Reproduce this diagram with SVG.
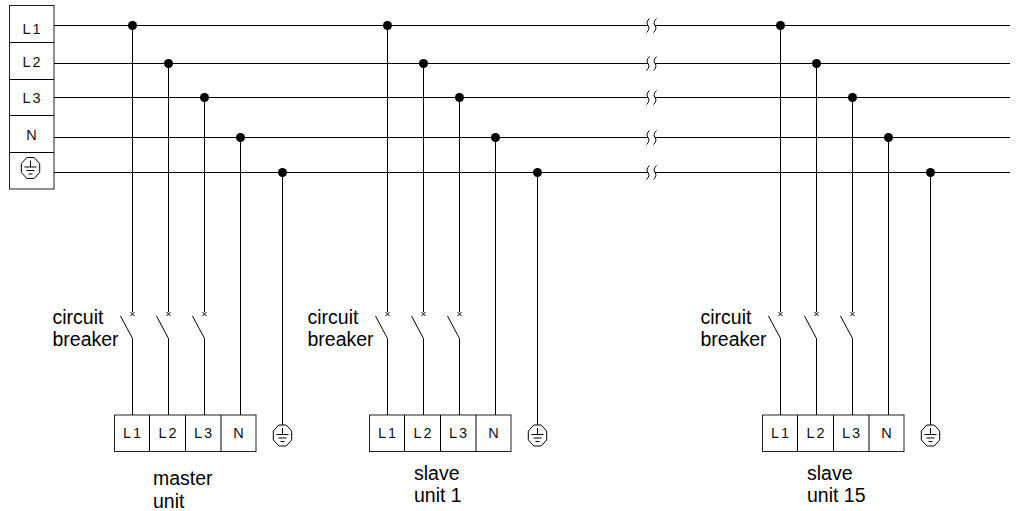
<svg xmlns="http://www.w3.org/2000/svg" xmlns:xlink="http://www.w3.org/1999/xlink" width="1017" height="511" viewBox="0 0 1017 511">
<style>
  .ln{stroke:#000;stroke-width:1;fill:none}
  .box{stroke:#222;stroke-width:1;fill:#fff}
  .dot{fill:#000}
  .cad{font-family:"Liberation Sans",Arial,sans-serif;font-size:14.5px;letter-spacing:2px;fill:#111;text-anchor:middle}
  .lbl{font-family:"Liberation Sans",Arial,sans-serif;font-size:19.5px;fill:#000}
</style>
<defs>
  <g id="gnd">
    <polygon class="ln" points="-3.7,-10.5 3.7,-10.5 9.2,-4.4 9.2,4.4 3.7,10.5 -3.7,10.5 -9.2,4.4 -9.2,-4.4"/>
    <path class="ln" d="M0,-7.5V-1M-6,-1H6M-4,2.5H4M-2,6H2"/>
  </g>
  <path id="brk" class="ln" d="M1.5,-7Q-2.5,-3 0,0Q2.5,3 -1.5,7"/>
  <g id="sw">
    <path class="ln" d="M-2,312L2,316M2,312L-2,316M-12,316L0,338.5"/>
  </g>
</defs>

<g id="connectors">
  <!-- bus lines -->
  <path class="ln" d="M54,25.5H648M655,25.5H1010"/>
  <path class="ln" d="M54,63.5H648M655,63.5H1010"/>
  <path class="ln" d="M54,97.5H648M655,97.5H1010"/>
  <path class="ln" d="M54,137.5H648M655,137.5H1010"/>
  <path class="ln" d="M54,172.5H648M655,172.5H1010"/>
  <use xlink:href="#brk" x="648" y="25.5"/><use xlink:href="#brk" x="655" y="25.5"/>
  <use xlink:href="#brk" x="648" y="63.5"/><use xlink:href="#brk" x="655" y="63.5"/>
  <use xlink:href="#brk" x="648" y="97.5"/><use xlink:href="#brk" x="655" y="97.5"/>
  <use xlink:href="#brk" x="648" y="137.5"/><use xlink:href="#brk" x="655" y="137.5"/>
  <use xlink:href="#brk" x="648" y="172.5"/><use xlink:href="#brk" x="655" y="172.5"/>

  <!-- drops per unit -->
  <g id="drops-master">
    <path class="ln" d="M132.5,25.5V312M132.5,338.5V415M168.5,63.5V312M168.5,338.5V415M204.5,97.5V312M204.5,338.5V415M240.5,137.5V415M282.5,172.5V425"/>
    <use xlink:href="#sw" x="132.5"/><use xlink:href="#sw" x="168.5"/><use xlink:href="#sw" x="204.5"/>
    <circle class="dot" cx="132.5" cy="25.5" r="4.5"/><circle class="dot" cx="168.5" cy="63.5" r="4.5"/>
    <circle class="dot" cx="204.5" cy="97.5" r="4.5"/><circle class="dot" cx="240.5" cy="137.5" r="4.5"/>
    <circle class="dot" cx="282.5" cy="172.5" r="4.5"/>
  </g>
  <g id="drops-slave1" transform="translate(255,0)">
    <path class="ln" d="M132.5,25.5V312M132.5,338.5V415M168.5,63.5V312M168.5,338.5V415M204.5,97.5V312M204.5,338.5V415M240.5,137.5V415M282.5,172.5V425"/>
    <use xlink:href="#sw" x="132.5"/><use xlink:href="#sw" x="168.5"/><use xlink:href="#sw" x="204.5"/>
    <circle class="dot" cx="132.5" cy="25.5" r="4.5"/><circle class="dot" cx="168.5" cy="63.5" r="4.5"/>
    <circle class="dot" cx="204.5" cy="97.5" r="4.5"/><circle class="dot" cx="240.5" cy="137.5" r="4.5"/>
    <circle class="dot" cx="282.5" cy="172.5" r="4.5"/>
  </g>
  <g id="drops-slave15" transform="translate(648,0)">
    <path class="ln" d="M132.5,25.5V312M132.5,338.5V415M168.5,63.5V312M168.5,338.5V415M204.5,97.5V312M204.5,338.5V415M240.5,137.5V415M282.5,172.5V425"/>
    <use xlink:href="#sw" x="132.5"/><use xlink:href="#sw" x="168.5"/><use xlink:href="#sw" x="204.5"/>
    <circle class="dot" cx="132.5" cy="25.5" r="4.5"/><circle class="dot" cx="168.5" cy="63.5" r="4.5"/>
    <circle class="dot" cx="204.5" cy="97.5" r="4.5"/><circle class="dot" cx="240.5" cy="137.5" r="4.5"/>
    <circle class="dot" cx="282.5" cy="172.5" r="4.5"/>
  </g>
</g>

<g id="supply">
  <rect class="box" x="9.5" y="5.5" width="44.5" height="183.5"/>
  <path class="ln" d="M9.5,42.5H54M9.5,79.5H54M9.5,115.5H54M9.5,152.5H54"/>
  <text class="cad" x="32.5" y="33.5">L1</text>
  <text class="cad" x="32.5" y="67">L2</text>
  <text class="cad" x="32.5" y="103">L3</text>
  <text class="cad" x="32.5" y="140">N</text>
  <use xlink:href="#gnd" x="30.5" y="168"/>
</g>

<g id="master-unit">
  <rect class="box" x="114.5" y="415" width="141.5" height="36.5"/>
  <path class="ln" d="M149.5,415V451.5M185.5,415V451.5M221,415V451.5"/>
  <text class="cad" x="133" y="438">L1</text>
  <text class="cad" x="168.5" y="438">L2</text>
  <text class="cad" x="204" y="438">L3</text>
  <text class="cad" x="239.5" y="438">N</text>
  <use xlink:href="#gnd" x="282.5" y="435.5"/>
  <text class="lbl" x="52.5" y="323.5">circuit</text>
  <text class="lbl" x="52.5" y="346">breaker</text>
  <text class="lbl" x="153" y="485">master</text>
  <text class="lbl" x="153" y="508">unit</text>
</g>

<g id="slave-unit-1" transform="translate(255,0)">
  <rect class="box" x="114.5" y="415" width="141.5" height="36.5"/>
  <path class="ln" d="M149.5,415V451.5M185.5,415V451.5M221,415V451.5"/>
  <text class="cad" x="133" y="438">L1</text>
  <text class="cad" x="168.5" y="438">L2</text>
  <text class="cad" x="204" y="438">L3</text>
  <text class="cad" x="239.5" y="438">N</text>
  <use xlink:href="#gnd" x="282.5" y="435.5"/>
  <text class="lbl" x="52.5" y="323.5">circuit</text>
  <text class="lbl" x="52.5" y="346">breaker</text>
  <text class="lbl" x="159" y="480">slave</text>
  <text class="lbl" x="159" y="502">unit 1</text>
</g>

<g id="slave-unit-15" transform="translate(648,0)">
  <rect class="box" x="114.5" y="415" width="141.5" height="36.5"/>
  <path class="ln" d="M149.5,415V451.5M185.5,415V451.5M221,415V451.5"/>
  <text class="cad" x="133" y="438">L1</text>
  <text class="cad" x="168.5" y="438">L2</text>
  <text class="cad" x="204" y="438">L3</text>
  <text class="cad" x="239.5" y="438">N</text>
  <use xlink:href="#gnd" x="282.5" y="435.5"/>
  <text class="lbl" x="52.5" y="323.5">circuit</text>
  <text class="lbl" x="52.5" y="346">breaker</text>
  <text class="lbl" x="159" y="480">slave</text>
  <text class="lbl" x="159" y="502">unit 15</text>
</g>
</svg>
